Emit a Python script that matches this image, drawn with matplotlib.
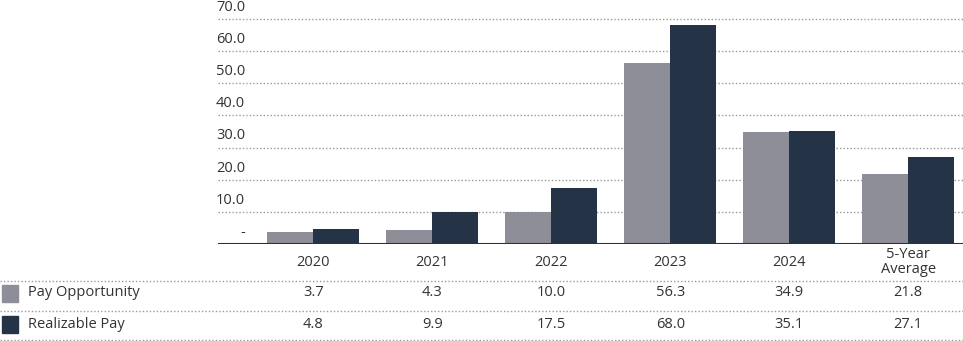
import numpy as np
import matplotlib
matplotlib.use("Agg")
import matplotlib.pyplot as plt
import matplotlib.transforms as mtrans
from matplotlib.lines import Line2D
from matplotlib.patches import Rectangle

categories = ["2020", "2021", "2022", "2023", "2024", "5-Year\nAverage"]
pay_opportunity = [3.7, 4.3, 10.0, 56.3, 34.9, 21.8]
realizable_pay = [4.8, 9.9, 17.5, 68.0, 35.1, 27.1]
series_names = ["Pay Opportunity", "Realizable Pay"]
yticks = [0, 10, 20, 30, 40, 50, 60, 70]

C_GRAY = "#8e8e98"
C_DARK = "#243446"
C_TEXT = "#333333"
C_GRID = "#9a9a9a"
FS = 10.5

plt.rcParams["font.family"] = ["Open Sans", "DejaVu Sans"]

W, H = 963, 341
fig = plt.figure(figsize=(W / 100, H / 100), dpi=100)

# axes placed in pixel terms of the reference
x0, x1 = 218, 963
y_zero, y_70 = 244, 19
px_per_unit = (y_zero - y_70) / 70.0
ytop = 72
ax = fig.add_axes([x0 / W, (H - y_zero) / H, (x1 - x0) / W,
                   ytop * px_per_unit / H])

x = np.arange(len(categories))
bw = 0.386
ax.bar(x - bw / 2, pay_opportunity, bw, color=C_GRAY, zorder=3)
ax.bar(x + bw / 2, realizable_pay, bw, color=C_DARK, zorder=3)
ax.set_xlim(-0.8, 5.46)
ax.set_ylim(0, ytop)

for s in ax.spines.values():
    s.set_visible(False)
ax.set_xticks([])
ax.set_yticks([])
ax.axhline(0, color=C_DARK, linewidth=1.5, zorder=4)

lab_x = (245 - x0) / (x1 - x0)
for t in yticks:
    if t > 0:
        ax.axhline(t, color=C_GRID, linewidth=1.0, linestyle=(0, (1, 1.5)),
                   zorder=1)
        lab = f"{t:.1f}"
    else:
        lab = "-"
    ax.annotate(lab, (lab_x, t), xycoords=("axes fraction", "data"),
                xytext=(0, 3), textcoords="offset points",
                ha="right", va="bottom", fontsize=FS, color=C_TEXT)

# table under the chart
tr = mtrans.blended_transform_factory(ax.transData, fig.transFigure)
def fy(py):
    return (H - py) / H

for i, c in enumerate(categories):
    ax.text(i, fy(262), c, transform=tr, ha="center", va="center",
            fontsize=FS, color=C_TEXT, linespacing=1.0)

rows = [pay_opportunity, realizable_pay]
row_y = [293, 324]
colors = [C_GRAY, C_DARK]
for name, vals, py, col in zip(series_names, rows, row_y, colors):
    for i, v in enumerate(vals):
        ax.text(i, fy(py), f"{v:.1f}", transform=tr, ha="center",
                va="center", fontsize=FS, color=C_TEXT)
    fig.text(28 / W, fy(py), name, ha="left", va="center",
             fontsize=FS, color=C_TEXT)
    fig.add_artist(Rectangle((2 / W, fy(py + 8.5)), 16 / W, 17 / H,
                             transform=fig.transFigure, color=col))

for py in [281, 311, 340]:
    fig.add_artist(Line2D([0, 1], [fy(py), fy(py)], transform=fig.transFigure,
                          color=C_GRID, linewidth=1.0,
                          linestyle=(0, (1, 1.5))))

fig.savefig("out.png", dpi=100)
